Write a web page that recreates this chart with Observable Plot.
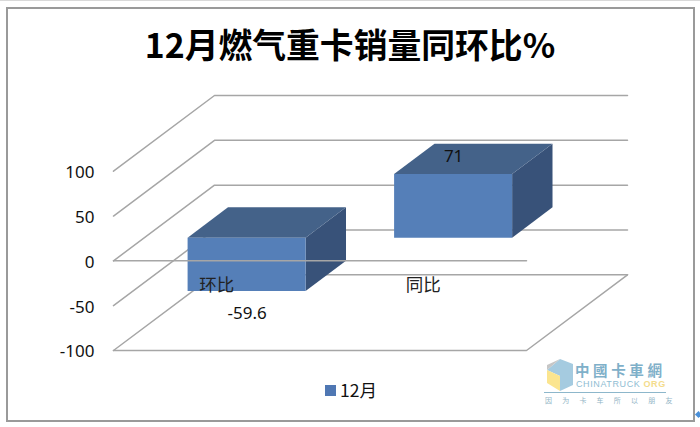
<!DOCTYPE html>
<html lang="zh">
<head>
<meta charset="utf-8">
<script src="https://cdn.jsdelivr.net/npm/d3@7"></script>
<script src="https://cdn.jsdelivr.net/npm/@observablehq/plot@0.6"></script>
<style>
  html, body { margin: 0; padding: 0; background: #fff; }
  #page { position: relative; width: 700px; height: 427px; overflow: hidden; box-sizing: border-box; border-top: 1px solid #d9d9d9; }
  #frame { position: absolute; left: 6px; top: 6px; width: 685px; height: 411px; border: 2px solid #9a9a9a; pointer-events: none; }
  #title { position: absolute; left: 0; right: 0; top: 21px; text-align: center; font: 700 33.8px/44px "Noto Sans CJK SC", sans-serif; color: #000; }
  #chart { position: absolute; left: 0; top: 69px; }
  #legend { position: absolute; left: 325px; top: 378px; display: flex; align-items: center; font: 17.5px/22px "Noto Sans CJK SC", sans-serif; color: #111; }
  #legend i { display: block; width: 11px; height: 11px; background: #4f77b3; margin-right: 4px; }
  #mark { position: absolute; left: 544px; top: 356px; width: 122px; height: 52px; }
  #mark svg { position: absolute; left: 1px; top: 1px; }
  #mark .cn { position: absolute; left: 31px; top: 5px; font: 700 14.5px/16px "Noto Sans CJK TC", sans-serif; letter-spacing: 3.6px; color: #7fb0c9; white-space: nowrap; }
  #mark .en { position: absolute; left: 32px; top: 22px; font: 9px/10px "Liberation Sans", sans-serif; letter-spacing: .6px; color: #8fbdd2; white-space: nowrap; }
  #mark .en b { color: #f4dc8c; font-weight: 700; }
  #mark .rule { position: absolute; left: 0; right: 0; top: 35px; height: 1px; background: #8db7cb; }
  #mark .sub { position: absolute; left: 1px; top: 38px; font: 7px/10px "Noto Sans CJK SC", sans-serif; letter-spacing: 10.2px; color: #93b5c6; white-space: nowrap; }
  #dot { position: absolute; left: 696px; top: 411px; width: 5px; height: 5px; background: #4a90d9; transform: rotate(45deg); }
</style>
</head>
<body>
<div id="page">
  <div id="frame"></div>
  <div id="title">12月燃气重卡销量同环比%</div>
  <div id="chart"></div>
  <div id="legend"><i></i><span>12月</span></div>
  <div id="mark">
    <svg width="30" height="34" viewBox="0 0 30 34">
      <polygon points="15,1 28,6 28,27 15,33 15,18 2,12" fill="#a5cbe0"/>
      <polygon points="2,12 15,18 15,33 2,25" fill="#fbe58f"/>
      <polygon points="15,1 2,12 2,7" fill="#c6c6c6"/>
    </svg>
    <div class="cn">中國卡車網</div>
    <div class="en">CHINATRUCK <b>ORG</b></div>
    <div class="rule"></div>
    <div class="sub">因为卡车所以朋友</div>
  </div>
  <div id="dot"></div>
</div>
<script>
// Chart values
const categories = ["环比", "同比"];
const values = [-59.6, 71];
const valueTicks = [-100, -50, 0, 50, 100];
const dataLabels = ["-59.6", "71"];
const dataLabelOffsets = [22, -18];

// Oblique projection of the 3-D plot: depth 0 = front, depth 1 = back wall
const depthX = 0.489;      // category slots moved per unit of depth
const depthY = 84.44;      // value units moved per unit of depth
const barInset = 0.2145, barWidth = 0.5715, barNear = 0.3, barFar = 0.7;
const px = (slot, depth) => slot + depthX * depth;
const py = (value, depth) => value + depthY * depth;
const floorValue = valueTicks[0], topValue = valueTicks[valueTicks.length - 1];
const slots = categories.length;

const pt = (slot, value, depth, extra = {}) => ({x: px(slot, depth), y: py(value, depth), ...extra});

// Gridlines: along the side wall and the back wall, for each tick
const gridLines = valueTicks.flatMap((v) => [
  pt(0, v, 0, {g: v}), pt(0, v, 1, {g: v}), pt(slots, v, 1, {g: v})
]);
// Floor outline and the zero plane's front edge
const floorLine = [pt(0, floorValue, 0), pt(slots, floorValue, 0), pt(slots, floorValue, 1)];
const zeroLine = [pt(0, 0, 0), pt(slots, 0, 0)];

// Bar faces as pairs of edges
const faces = categories.flatMap((c, i) => {
  const l = i + barInset, r = l + barWidth, v = values[i];
  const hi = Math.max(0, v), lo = Math.min(0, v);
  const edge = (id, a, b, c2, d) => [
    {id, x1: a.x, y1: a.y, x2: b.x, y2: b.y},
    {id, x1: c2.x, y1: c2.y, x2: d.x, y2: d.y}
  ];
  return [
    ...edge(c + "side", pt(r, hi, barNear), pt(r, lo, barNear), pt(r, hi, barFar), pt(r, lo, barFar)).map(d => ({...d, face: "side"})),
    ...edge(c + "top", pt(l, hi, barNear), pt(r, hi, barNear), pt(l, hi, barFar), pt(r, hi, barFar)).map(d => ({...d, face: "top"})),
    ...edge(c + "front", pt(l, hi, barNear), pt(l, lo, barNear), pt(r, hi, barNear), pt(r, lo, barNear)).map(d => ({...d, face: "front"}))
  ];
});
const faceColors = {front: "#557fb8", top: "#446289", side: "#385279"};
const grid = "#a6a6a6";

const labelFont = {fontFamily: "'Noto Sans', sans-serif", fontSize: 17, fill: "#111"};

const chart = Plot.plot({
  width: 700,
  height: 300,
  marginLeft: 113,
  marginRight: 73,
  marginTop: 25,
  marginBottom: 20,
  style: {background: "transparent", overflow: "visible"},
  x: {type: "linear", domain: [0, px(slots, 1)], axis: null},
  y: {type: "linear", domain: [floorValue, py(topValue, 1)], axis: null},
  marks: [
    Plot.line(gridLines, {x: "x", y: "y", z: "g", stroke: grid, strokeWidth: 1.5, curve: "linear"}),
    Plot.line(floorLine, {x: "x", y: "y", stroke: grid, strokeWidth: 1.5}),
    ...["side", "top", "front"].map((f) =>
      Plot.area(faces.filter((d) => d.face === f), {
        x1: "x1", y1: "y1", x2: "x2", y2: "y2", z: "id",
        fill: faceColors[f], fillOpacity: 1, curve: "linear"
      })
    ),
    Plot.line(zeroLine, {x: "x", y: "y", stroke: grid, strokeWidth: 1.5}),
    Plot.axisY({ticks: valueTicks, tickSize: 0, tickPadding: 19, tickFormat: (d) => String(d), label: null, fontSize: 17, fontFamily: "'Noto Sans', sans-serif", fill: "#111", dy: 1.5}),
    Plot.text(categories, {
      x: (c, i) => i + 0.5, y: () => 0, text: (c) => c, dy: 24.5,
      fontFamily: "'Noto Sans CJK SC', sans-serif", fontSize: 17.5, fill: "#222"
    }),
    ...values.map((v, i) => Plot.text([v], {
      x: () => px(i + barInset + barWidth / 2, barNear), y: (d) => py(d, barNear),
      text: () => dataLabels[i], dy: dataLabelOffsets[i], ...labelFont
    }))
  ]
});
document.getElementById("chart").appendChild(chart);
</script>
</body>
</html>
